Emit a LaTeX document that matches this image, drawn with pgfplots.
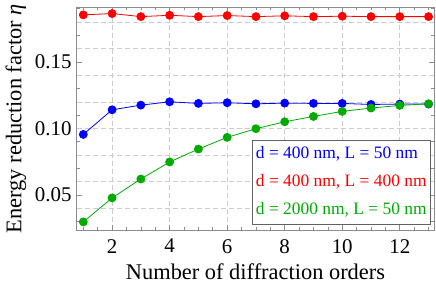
\documentclass[border=0pt]{standalone}
\usepackage{pgfplots}
\pgfplotsset{compat=1.18}
\usepackage{fontspec}
\setmainfont{Liberation Serif}
\definecolor{mred}{rgb}{1,0,0}
\definecolor{mblue}{rgb}{0,0,1}
\definecolor{mgreen}{rgb}{0,0.67,0}
\definecolor{framegray}{gray}{0.55}
\definecolor{gridgray}{gray}{0.8}
\begin{document}
\begin{tikzpicture}
\path[use as bounding box] (-76.7bp,-53bp) rectangle (359.3bp,230bp);
\begin{axis}[
  at={(0,0)}, anchor=south west,
  scale only axis, width=357.6bp, height=222.7bp,
  xmin=0.77, xmax=13.2, ymin=0.0237, ymax=0.191,
  axis line style={framegray, line width=0.6bp},
  tick style={framegray, line width=0.6bp},
  tick align=inside, tick pos=both,
  major tick length=5bp, minor tick length=3bp,
  xtick={2,4,6,8,10,12},
  xticklabels={2,4,6,8,10,12},
  minor xtick={1,1.5,2.5,3,3.5,4.5,5,5.5,6.5,7,7.5,8.5,9,9.5,10.5,11,11.5,12.5,13},
  ytick={0.05,0.10,0.15},
  yticklabels={0.05,0.10,0.15},
  minor ytick={0.03,0.04,0.06,0.07,0.08,0.09,0.11,0.12,0.13,0.14,0.16,0.17,0.18,0.19},
  xmajorgrids=true,
  extra y ticks={0.04,0.06,0.08,0.10,0.12,0.14,0.16,0.18},
  extra y tick labels={},
  extra y tick style={ymajorgrids=true, major tick length=0pt},
  major grid style={gridgray, line width=0.6bp, dash pattern=on 5bp off 3bp},
  yticklabel style={font=\rmfamily\fontsize{21}{25}\selectfont, inner sep=0pt, xshift=-5bp},
  xticklabel style={font=\rmfamily\fontsize{21}{25}\selectfont, inner sep=0pt, anchor=north, yshift=-9bp},
  every axis x label/.style={at={(axis description cs:0.5,0)}, anchor=base, yshift=-49bp, inner sep=0pt, font=\rmfamily\fontsize{22.5}{27}\selectfont},
  every axis y label/.style={at={(axis description cs:-0.1697,0.5)}, anchor=center, rotate=90, inner sep=0pt, font=\rmfamily\fontsize{22.5}{27}\selectfont},
  xlabel={Number of diffraction orders},
  ylabel={Energy reduction factor \textit{η}},
  legend image code/.code={},
  legend cell align=left,
  legend style={at={(0.9908,0.404)}, anchor=north east, draw=framegray!70!black, line width=0.6bp, fill=white,
    font=\rmfamily\fontsize{17.5}{21}\selectfont, inner xsep=2bp, inner ysep=0bp,
    nodes={text height=12bp, text depth=3bp, inner ysep=6.5bp, inner xsep=2bp},
    /tikz/every even column/.append style={column sep=0pt}},
]
\addplot[mblue, line width=0.8bp, mark=*, mark size=4bp, mark options={solid, fill=mblue, draw=mblue}] coordinates {
(1,0.0955) (2,0.1140) (3,0.1175) (4,0.1200) (5,0.1188) (6,0.1193) (7,0.1185)
(8,0.1190) (9,0.1188) (10,0.1188) (11,0.1180) (12,0.1183) (13,0.1183)};
\addlegendentry{\textcolor{mblue}{d = 400 nm, L = 50 nm}}
\addplot[mred, line width=0.8bp, mark=*, mark size=4bp, mark options={solid, fill=mred, draw=mred}] coordinates {
(1,0.1853) (2,0.1863) (3,0.1840) (4,0.1850) (5,0.1840) (6,0.1848) (7,0.1840)
(8,0.1846) (9,0.1840) (10,0.1843) (11,0.1840) (12,0.1840) (13,0.1840)};
\addlegendentry{\textcolor{mred}{d = 400 nm, L = 400 nm}}
\addplot[mgreen, line width=0.8bp, mark=*, mark size=4bp, mark options={solid, fill=mgreen, draw=mgreen}] coordinates {
(1,0.0298) (2,0.0478) (3,0.0620) (4,0.0748) (5,0.0845) (6,0.0933) (7,0.0998)
(8,0.1050) (9,0.1090) (10,0.1128) (11,0.1153) (12,0.1173) (13,0.1185)};
\addlegendentry{\textcolor{mgreen}{d = 2000 nm, L = 50 nm}}
\end{axis}
\end{tikzpicture}
\end{document}
